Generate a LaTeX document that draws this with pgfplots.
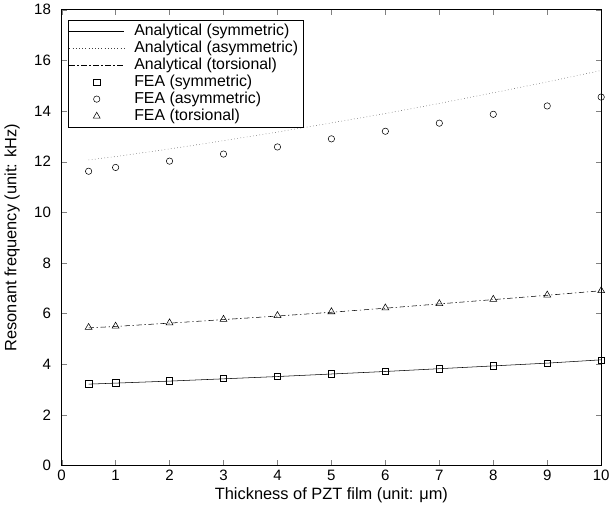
\documentclass[border=0pt]{standalone}
\usepackage{fontspec}
\setmainfont{Liberation Sans}
\usepackage{pgfplots}
\pgfplotsset{compat=1.18}

\begin{document}
\begin{tikzpicture}
\begin{axis}[scale only axis,width=405pt,height=342pt,
  xmin=0,xmax=10,ymin=0,ymax=18,
  xtick={0,1,...,10},ytick={0,2,...,18},
  tick align=inside,major tick length=3.7pt,
  /pgf/number format/assume math mode=true,
  ticklabel style={font=\fontsize{11.3}{12}\selectfont},
  yticklabel style={xshift=-4.5pt},
  label style={font=\fontsize{12.3}{14}\selectfont},
  xlabel={Thickness of PZT film (unit: μm)},
  ylabel={Resonant frequency (unit: kHz)},
  xlabel style={yshift=2pt},ylabel style={yshift=4pt},
  legend cell align=left,
  legend style={at={(0.011,0.978)},anchor=north west,draw=black,
    font=\fontsize{11.9}{12}\selectfont,inner sep=1pt,row sep=-1.3pt,
    nodes={inner xsep=2.5pt}},
  legend image code/.code={\draw[mark repeat=2,mark phase=2,#1]
    plot coordinates {(0cm,0cm) (0.72cm,0cm) (1.44cm,0cm)};
    \path (1.44cm+5pt,0cm);},
  every axis plot/.append style={black},
  mark options={solid,fill=white},
]
% analytical
\addplot[thin,no marks] coordinates {
(0.5,3.21) (1,3.25) (2,3.33) (3,3.42) (4,3.51) (5,3.61) (6,3.71) (7,3.82) (8,3.93) (9,4.04) (10,4.17)};
\addplot[thin,no marks,dotted,black!75] coordinates {
(0.5,12.07) (1,12.2) (2,12.5) (3,12.83) (4,13.17) (5,13.53) (6,13.9) (7,14.3) (8,14.72) (9,15.15) (10,15.6)};
\addplot[thin,no marks,dash pattern=on 4pt off 2pt on 1pt off 2pt] coordinates {
(0.5,5.43) (1,5.49) (2,5.62) (3,5.76) (4,5.9) (5,6.05) (6,6.21) (7,6.38) (8,6.55) (9,6.72) (10,6.9)};
% FEA
\addplot[only marks,mark=square,mark size=2.4pt] coordinates {
(0.5,3.22) (1,3.26) (2,3.34) (3,3.43) (4,3.52) (5,3.62) (6,3.71) (7,3.82) (8,3.93) (9,4.03) (10,4.15)};
\addplot[only marks,mark=o,mark size=2.4pt] coordinates {
(0.5,11.62) (1,11.77) (2,12.02) (3,12.3) (4,12.58) (5,12.9) (6,13.2) (7,13.52) (8,13.87) (9,14.2) (10,14.55)};
\addplot[only marks,mark=triangle,mark size=3pt] coordinates {
(0.5,5.45) (1,5.5) (2,5.63) (3,5.77) (4,5.92) (5,6.07) (6,6.22) (7,6.39) (8,6.56) (9,6.73) (10,6.9)};
\legend{Analytical (symmetric),Analytical (asymmetric),Analytical (torsional),
FEA (symmetric),FEA (asymmetric),FEA (torsional)}
\end{axis}
\end{tikzpicture}
\end{document}
